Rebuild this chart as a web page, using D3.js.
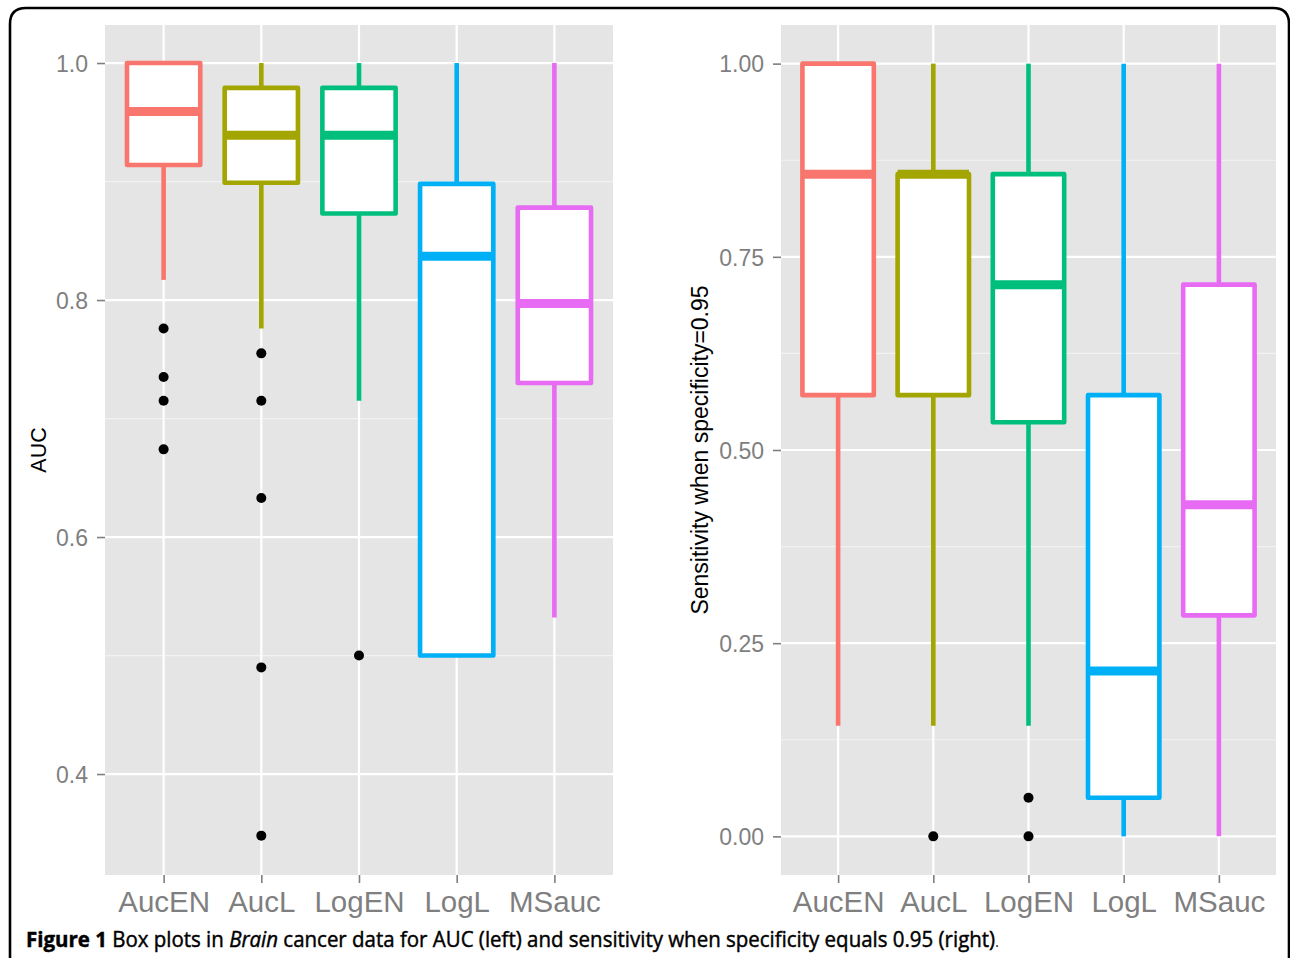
<!DOCTYPE html>
<html>
<head>
<meta charset="utf-8">
<script src="https://cdn.jsdelivr.net/npm/d3@7"></script>
<style>
  html, body { margin: 0; padding: 0; background: #ffffff; }
  svg { display: block; }
  .gg text { font-family: "Liberation Sans", Arial, Helvetica, sans-serif; }
  .cap { font-family: "Open Sans", "Noto Sans", sans-serif; }
</style>
</head>
<body>
<svg id="chart" width="1290" height="958"></svg>
<script>
// ---------- data ----------
const categories = ["AucEN", "AucL", "LogEN", "LogL", "MSauc"];
const colors = ["#F8766D", "#A3A500", "#00BF7D", "#00B0F6", "#E76BF3"];

// Left panel: AUC
const aucLower   = [0.817, 0.776, 0.715, 0.500, 0.532];
const aucQ1      = [0.914, 0.899, 0.873, 0.500, 0.730];
const aucMedian  = [0.959, 0.939, 0.939, 0.837, 0.797];
const aucQ3      = [1.000, 0.979, 0.979, 0.898, 0.878];
const aucUpper   = [1.000, 1.000, 1.000, 1.000, 1.000];
const aucOutliers = [[0.776, 0.735, 0.715, 0.674], [0.755, 0.715, 0.633, 0.490, 0.348], [0.500], [], []];
const aucTicks = [0.4, 0.6, 0.8, 1.0];
const aucMinor = [0.5, 0.7, 0.9];

// Right panel: sensitivity when specificity = 0.95
const sensLower  = [0.143, 0.143, 0.143, 0.000, 0.000];
const sensQ1     = [0.571, 0.571, 0.536, 0.050, 0.286];
const sensMedian = [0.857, 0.857, 0.714, 0.214, 0.429];
const sensQ3     = [1.000, 0.857, 0.857, 0.571, 0.714];
const sensUpper  = [1.000, 1.000, 1.000, 1.000, 1.000];
const sensOutliers = [[], [0.000], [0.050, 0.000], [], []];
const sensTicks = [0.00, 0.25, 0.50, 0.75, 1.00];
const sensMinor = [0.125, 0.375, 0.625, 0.875];

// ---------- drawing ----------
const svg = d3.select("#chart");
const GREY = "#7F7F7F";

// outer frame
svg.append("path")
  .attr("d", "M10,970 L10,24 Q10,8 26,8 L1273,8 Q1289,8 1289,24 L1289,970")
  .attr("fill", "none").attr("stroke", "#000").attr("stroke-width", 2.6);

function panel(cfg) {
  const g = svg.append("g").attr("class", "gg");
  const x = d3.scalePoint().domain(categories).range([cfg.x0, cfg.x1]).padding(0.6);
  const y = d3.scaleLinear().domain(cfg.domain).range([cfg.y1, cfg.y0]);
  const bw = x.step() * 0.75;

  // background
  g.append("rect").attr("x", cfg.x0).attr("y", cfg.y0)
    .attr("width", cfg.x1 - cfg.x0).attr("height", cfg.y1 - cfg.y0).attr("fill", "#E5E5E5");

  // minor grid
  g.selectAll(".minor").data(cfg.minor).enter().append("line")
    .attr("x1", cfg.x0).attr("x2", cfg.x1)
    .attr("y1", d => y(d)).attr("y2", d => y(d))
    .attr("stroke", "#F2F2F2").attr("stroke-width", 1.2);
  // major grid
  g.selectAll(".major").data(cfg.ticks).enter().append("line")
    .attr("x1", cfg.x0).attr("x2", cfg.x1)
    .attr("y1", d => y(d)).attr("y2", d => y(d))
    .attr("stroke", "#FFFFFF").attr("stroke-width", 2.2);
  g.selectAll(".vmajor").data(categories).enter().append("line")
    .attr("x1", d => x(d)).attr("x2", d => x(d))
    .attr("y1", cfg.y0).attr("y2", cfg.y1)
    .attr("stroke", "#FFFFFF").attr("stroke-width", 2.2);

  // boxes
  categories.forEach((c, i) => {
    const cx = x(c), col = colors[i];
    g.append("line").attr("x1", cx).attr("x2", cx)
      .attr("y1", y(cfg.q3[i])).attr("y2", y(cfg.upper[i]))
      .attr("stroke", col).attr("stroke-width", 4.6);
    g.append("line").attr("x1", cx).attr("x2", cx)
      .attr("y1", y(cfg.q1[i])).attr("y2", y(cfg.lower[i]))
      .attr("stroke", col).attr("stroke-width", 4.6);
    g.append("rect")
      .attr("x", cx - bw / 2).attr("width", bw)
      .attr("y", y(cfg.q3[i])).attr("height", Math.max(0, y(cfg.q1[i]) - y(cfg.q3[i])))
      .attr("fill", "#FFFFFF").attr("stroke", col).attr("stroke-width", 4.6)
      .attr("stroke-linejoin", "round");
    g.append("line")
      .attr("x1", cx - bw / 2).attr("x2", cx + bw / 2)
      .attr("y1", y(cfg.median[i])).attr("y2", y(cfg.median[i]))
      .attr("stroke", col).attr("stroke-width", 9);
    g.selectAll(null).data(cfg.outliers[i]).enter().append("circle")
      .attr("cx", cx).attr("cy", d => y(d)).attr("r", 5).attr("fill", "#000");
  });

  // y axis
  const ya = g.append("g").attr("transform", `translate(${cfg.x0},0)`)
    .call(d3.axisLeft(y).tickValues(cfg.ticks).tickSize(8).tickPadding(9).tickFormat(d3.format(cfg.fmt)));
  ya.attr("font-family", null);
  ya.select(".domain").remove();
  ya.selectAll(".tick line").attr("stroke", GREY).attr("stroke-width", 1.6);
  ya.selectAll(".tick text").attr("fill", GREY).style("font-size", "23px").attr("dy", "0.36em");

  // x axis
  const xa = g.append("g").attr("transform", `translate(0,${cfg.y1})`)
    .call(d3.axisBottom(x).tickSize(8));
  xa.attr("font-family", null);
  xa.select(".domain").remove();
  xa.selectAll(".tick line").attr("stroke", GREY).attr("stroke-width", 1.6);
  xa.selectAll(".tick text").attr("fill", GREY).style("font-size", "29.5px")
    .attr("y", 37).attr("dy", 0);

  // y title
  g.append("text")
    .attr("transform", `translate(${cfg.titleX},${(cfg.y0 + cfg.y1) / 2}) rotate(-90)`)
    .attr("text-anchor", "middle").style("font-size", cfg.titleSize + "px")
    .attr("fill", "#000").text(cfg.title);
}

panel({
  x0: 105, x1: 613, y0: 25, y1: 875,
  domain: [0.3148, 1.0321],
  ticks: aucTicks, minor: aucMinor, fmt: ".1f",
  lower: aucLower, q1: aucQ1, median: aucMedian, q3: aucQ3, upper: aucUpper, outliers: aucOutliers,
  title: "AUC", titleX: 46, titleSize: 21.5
});

panel({
  x0: 781, x1: 1276, y0: 25, y1: 875,
  domain: [-0.05, 1.05],
  ticks: sensTicks, minor: sensMinor, fmt: ".2f",
  lower: sensLower, q1: sensQ1, median: sensMedian, q3: sensQ3, upper: sensUpper, outliers: sensOutliers,
  title: "Sensitivity when specificity=0.95", titleX: 708, titleSize: 23
});

// caption
const cap = svg.append("text").attr("class", "cap").attr("x", 26).attr("y", 947)
  .style("font-size", "21.5px").attr("fill", "#000")
  .attr("stroke", "#000").attr("stroke-width", 0.45);
cap.append("tspan").attr("font-weight", 700).text("Figure 1");
cap.append("tspan").text(" Box plots in ");
cap.append("tspan").attr("font-style", "italic").text("Brain");
cap.append("tspan").text(" cancer data for AUC (left) and sensitivity when specificity equals 0.95 (right)");
cap.append("tspan").style("font-size", "14px").attr("stroke-width", 0).text(".");
const w = cap.node().getComputedTextLength();
const target = 999 - 26;
cap.attr("transform", `translate(26,0) scale(${target / w},1) translate(-26,0)`);
</script>
</body>
</html>
